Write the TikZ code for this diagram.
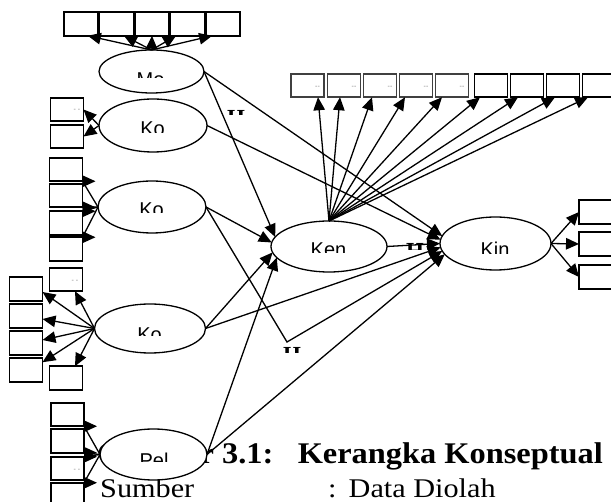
\documentclass[tikz,border=0pt]{standalone}
\usepackage{fontspec}
\setmainfont{Liberation Serif}
\newfontfamily\arialf{Liberation Sans}
\usetikzlibrary{shapes.geometric,arrows.meta}

% label whose lower part is cut off: style, name, x centre, top edge, last visible row, text
\newcommand\cutlbl[6]{%
  \begin{scope}
    \clip (#3-40,#4-6) rectangle (#3+40,#5);
    \node[#1,anchor=north] (#2) at (#3,#4) {#6};
  \end{scope}}

\begin{document}
\begin{tikzpicture}[x=1pt,y=-1pt,
  box/.style={draw,line width=1.6pt,fill=white,minimum width=33pt,minimum height=23.5pt,inner sep=0pt,outer sep=0pt},
  ell/.style={draw,ellipse,line width=1.3pt,fill=white,inner sep=0pt,outer sep=0pt},
  conn/.style={line width=1.3pt},
  arr/.style={conn,-{Triangle[length=13pt,width=11.5pt]}},
  lbl/.style={font=\arialf\fontsize{20}{20}\selectfont,inner sep=0pt},
  hyp/.style={font=\bfseries\fontsize{23}{23}\selectfont,inner sep=0pt},
  tick/.style={font=\arialf\fontsize{7}{7}\selectfont,text=gray,inner sep=0pt}]

\useasboundingbox (0,0) rectangle (611,502);

% caption and source line
\node[anchor=base west,inner sep=0pt] (cap) at (222,464)
  {\fontsize{30}{30}\selectfont\bfseries\scalebox{1.08}[1]{\llap{Gambar\ }3.1:\hspace{0.75em}Kerangka Konseptual}};
\node[anchor=base west,inner sep=0pt] (src) at (100,498)
  {\fontsize{27}{27}\selectfont\scalebox{1.12}[1]{Sumber}};
\node[anchor=base west,inner sep=0pt] (srcv) at (328,498)
  {\fontsize{27}{27}\selectfont\scalebox{1.12}[1]{:\hspace{0.4em}Data Diolah}};

% latent variables
\node[ell,minimum width=105pt,minimum height=43pt] (mo)  at (151.5,71.5) {};
\node[ell,minimum width=108pt,minimum height=53pt] (ko1) at (153,125.5) {};
\node[ell,minimum width=108pt,minimum height=52pt] (ko2) at (152,207) {};
\node[ell,minimum width=111pt,minimum height=49pt] (ko3) at (150,328.5) {};
\node[ell,minimum width=107pt,minimum height=51pt] (pel) at (153.5,454.5) {};
\node[ell,minimum width=116pt,minimum height=51pt] (ken) at (329,246.5) {};
\node[ell,minimum width=111pt,minimum height=53pt] (kin) at (495.5,243.5) {};

\cutlbl{lbl}{mot}{150.5}{73}{78}{Mo}
\cutlbl{lbl}{ko1t}{152.5}{122}{133}{Ko}
\cutlbl{lbl}{ko2t}{151.5}{203}{213}{Ko}
\cutlbl{lbl}{ko3t}{149.5}{328}{336}{Ko}
\cutlbl{lbl}{kent}{328.5}{243}{253}{Ken}
\cutlbl{lbl}{kint}{495}{242}{254}{Kin}
\cutlbl{lbl}{pelt}{154}{453}{462}{Pel}

% path labels
\cutlbl{hyp}{h1}{236}{110}{115}{H}
\cutlbl{hyp}{h2}{415}{243}{250}{H}
\cutlbl{hyp}{h3}{292}{347}{353}{H}

% indicators of Mo
\foreach \i/\x in {1/80.8,2/116.4,3/152,4/187.6,5/223.2}
  \node[box,minimum width=34pt] (m\i) at (\x,24) {};
% indicators of the first Ko
\node[box] (a1) at (67,109.5) {};
\node[box] (a2) at (67,136.5) {};
\node[tick] (t1) at (77,110) {- -};
% indicators of the second Ko
\foreach \i/\y in {1/169.5,2/195.5,3/223,4/249}
  \node[box] (c\i) at (66,\y) {};
% indicators of the third Ko
\foreach \i/\y in {1/289,2/316,3/343,4/370}
  \node[box] (l\i) at (26,\y) {};
\node[box] (r1) at (66,279.5) {};
\node[box] (r2) at (66,378) {};
\node[tick] (t2) at (75,281) {- -};
% indicators of Pel
\foreach \i/\y in {1/414.5,2/441,3/468.5,4/494.5}
  \node[box] (p\i) at (67.5,\y) {};
\node[tick] (t3) at (77,470) {- -};
% indicators of Ken
\foreach \i/\x in {1/307.5,2/344,3/380,4/416,5/452}
  \node[box,draw=black!75] (n\i) at (\x,85.5) {};
\foreach \i/\x in {6/491,7/527,8/563,9/599}
  \node[box] (n\i) at (\x,85.5) {};
\foreach \i/\x in {1/307.5,2/344,3/380,4/416,5/452}
  \node[tick] (d\i) at (\x+10,87) {--};
% indicators of Kin
\foreach \i/\y in {1/212,2/244,3/277}
  \node[box,minimum width=35pt] (k\i) at (596.5,\y) {};

% Mo loadings
\draw[arr] (mo.north) -- ([xshift=7pt]m1.south);
\draw[arr] (mo.north) -- ([xshift=7.5pt]m2.south);
\draw[arr] (mo.north) -- (m3.south);
\draw[arr] (mo.north) -- ([xshift=-11.5pt]m4.south);
\draw[arr] (mo.north) -- ([xshift=-11pt]m5.south);
% first Ko loadings
\draw[arr] (ko1.west) -- (a1.east);
\draw[arr] (ko1.west) -- (a2.east);
% second Ko loadings
\draw[conn] (ko2.west) -- (c1.south east);
\draw[conn] (ko2.west) -- (c2.south east);
\draw[conn] (ko2.west) -- (c3.north east);
\draw[conn] (ko2.west) -- (c4.north east);
\foreach \a in {c1.south east,c2.south east,c3.north east,c4.north east}
  \draw[arr] (\a) -- ++(13,0);
% third Ko loadings
\draw[arr] (ko3.west) -- ([yshift=-3pt]l1.east);
\draw[arr] (ko3.west) -- ([xshift=9pt]r1.south);
\draw[arr] (ko3.west) -- ([yshift=-3pt]l2.east);
\draw[arr] (ko3.west) -- ([yshift=3pt]l3.east);
\draw[arr] (ko3.west) -- ([yshift=-4pt]l4.north east);
\draw[arr] (ko3.west) -- ([xshift=9pt]r2.north);
% Pel loadings
\draw[conn] (pel.west) -- (p1.south east);
\draw[conn] (pel.west) -- (p2.south east);
\draw[conn] (pel.west) -- (p3.north east);
\draw[conn] (pel.west) -- (p4.north east);
\foreach \a in {p1.south east,p2.south east,p3.north east,p4.north east}
  \draw[arr] (\a) -- ++(13,0);
% Ken loadings
\foreach \i/\s in {1/10.5,2/-4,3/-8,4/-11,5/-10,6/-11,7/-9,8/-8,9/-11}
  \draw[arr] (ken.north) -- ([xshift=\s pt]n\i.south);
% Kin loadings
\foreach \i in {1,2,3}
  \draw[arr] (kin.east) -- (k\i.west);

% structural paths
\coordinate (bend) at (287,342);
\draw[arr] (mo.east) -- (ken.170);
\draw[arr] (mo.east) -- (kin.172);
\draw[arr] (ko1.east) -- (kin.176);
\draw[arr] (ko2.east) -- (ken.176);
\draw[arr] (ko2.east) -- (bend) -- (kin.188);
\draw[arr] (ko3.east) -- (ken.186);
\draw[arr] (ko3.east) -- (kin.184);
\draw[arr] (pel.east) -- (ken.192);
\draw[arr] (pel.east) -- (kin.192);
\draw[arr] (ken.east) -- (kin.west);
\end{tikzpicture}
\end{document}
